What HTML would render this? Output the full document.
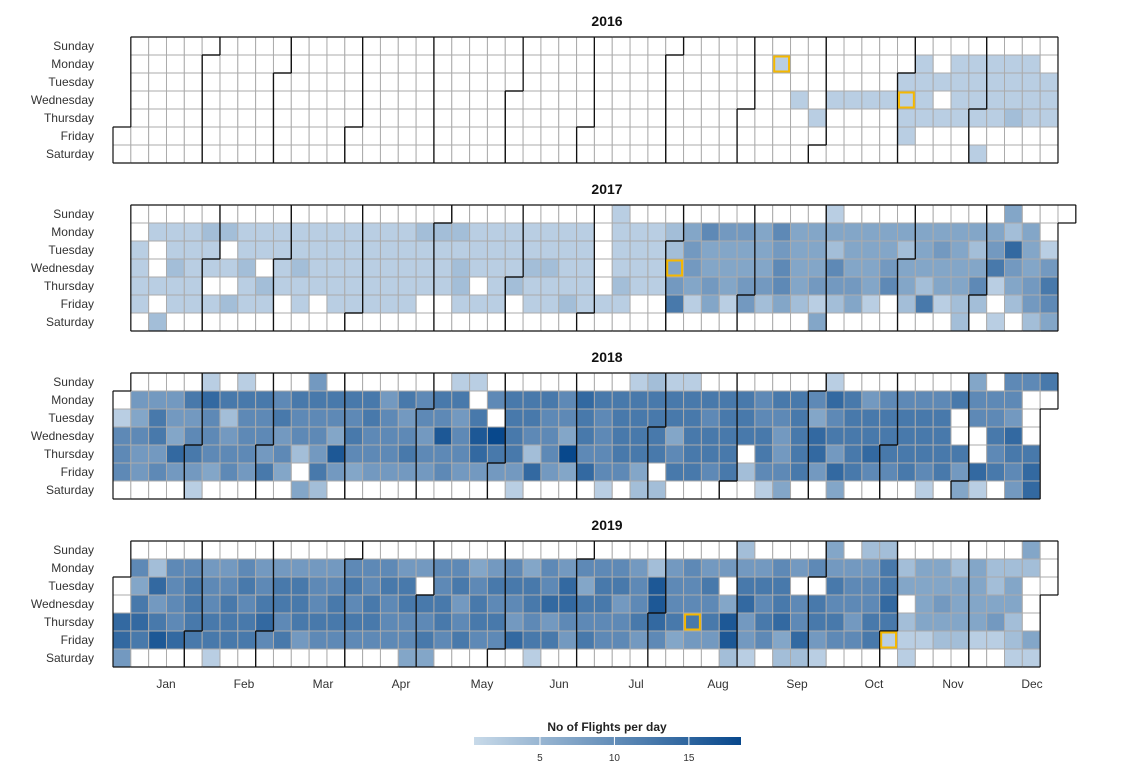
<!DOCTYPE html>
<html><head><meta charset="utf-8">
<style>
html,body{margin:0;padding:0;background:#fff;}
svg{display:block;font-family:"Liberation Sans",Arial,sans-serif;}
</style></head>
<body>
<svg id="chart" width="1129" height="776" viewBox="0 0 1129 776" xmlns="http://www.w3.org/2000/svg">
<defs>
<linearGradient id="lg" x1="0" x2="1" y1="0" y2="0">
<stop offset="0" stop-color="#c8dae9"/><stop offset="1" stop-color="#08488c"/>
</linearGradient>
</defs>
<g id="panels"></g>
<g id="months"></g>
<g>
<text x="607" y="731" text-anchor="middle" font-size="12" font-weight="bold" fill="#222">No of Flights per day</text>
<rect x="474" y="737" width="267" height="8" fill="url(#lg)"/>
<g id="legendTicks"></g>
</g>
</svg>
<script>
const years = [2016, 2017, 2018, 2019];
const dayNames = ["Sunday","Monday","Tuesday","Wednesday","Thursday","Friday","Saturday"];
const monthNames = ["Jan","Feb","Mar","Apr","May","Jun","Jul","Aug","Sep","Oct","Nov","Dec"];
const monthLabelX = [166,244,323,401,482,559,636,718,797,874,953,1032];
const levelValues = [0,2,4,7,8.5,10.5,12.5,14.5,16.5,18.5];
const legendTicks = [5,10,15];
const weeks2016 = ["0000000","0000000","0000000","0000000","0000000","0000000","0000000","0000000","0000000","0000000","0000000","0000000","0000000","0000000","0000000","0000000","0000000","0000000","0000000","0000000","0000000","0000000","0000000","0000000","0000000","0000000","0000000","0000000","0000000","0000000","0000000","0000000","0000000","0000000","0000000","0000000","0000000","0100000","0001000","0000100","0001000","0001000","0001000","0001000","0011110","0111100","0010100","0111100","0111101","0111100","0111200","0111100","0011100"];
const weeks2017 = ["0000000","0011110","0100102","0112110","0111110","0211010","0201020","0112110","0110210","0111100","0112110","0111100","0111110","0111110","0111110","0111110","0111110","0211100","0211100","0212210","0111010","0111110","0111200","0112110","0112110","0111120","0111110","0000010","1111210","0111100","0111100","0223460","0344310","0533430","0433310","0433440","0333420","0545530","0333320","0333413","1325420","0333430","0333310","0334500","0323320","0333260","0343310","0333322","0323520","0346101","3274320","0333442","0014653","0000000"];
const weeks2018 = ["0015550","0435440","0466450","0443740","0645641","1755530","0624550","1655540","0655460","0564530","0655203","4655462","0653840","0656530","0665540","0455540","0645640","0554540","0658550","1645540","1068740","0509640","0666641","0665270","0655540","0553930","0766570","0655551","0666650","1666632","2666602","1663560","1666660","0656650","0666660","0666020","0556651","0654453","0666660","0537740","1756473","0666660","0466750","0566650","0566660","0566651","0566660","0600643","3550071","0556560","5547654","5000677","6000000"];
const weeks2019 = ["0000774","0536760","0274680","0555570","0566660","0455661","0456660","0565660","0456750","0466560","0466640","0455650","0456650","0565650","0556650","0565550","0466553","0406563","0556650","0564560","0356650","0465650","0565470","0366561","0557460","0477540","0536560","0566550","0564550","0455640","0288750","0455630","0555640","0465640","0403882","2467441","0465650","0566732","0405572","0506641","3465650","0455450","2455660","2667610","0230211","0333310","0334320","0233320","0333310","0223410","0233221","3200031","0000000"];
const highlights = [[2016,"2016-09-12"],[2016,"2016-11-02"],[2017,"2017-08-02"],[2019,"2019-08-15"],[2019,"2019-11-01"]];

const weekData = {2016: weeks2016, 2017: weeks2017, 2018: weeks2018, 2019: weeks2019};
const NS = "http://www.w3.org/2000/svg";
const X0 = 113, CW = 17.83, CH = 18, PY0 = 37, PSTEP = 168;
const VMIN = 0.57, VMAX = 18.5;
const cLo = [200,218,234], cHi = [8,72,140];
function colorFor(v){
  if(!v) return "#ffffff";
  let t = Math.max(0, Math.min(1, (v - VMIN) / (VMAX - VMIN)));
  const c = cLo.map((a,i)=>Math.round(a + (cHi[i]-a)*t));
  return "rgb(" + c.join(",") + ")";
}
function legendX(v){ return 474 + (v - VMIN) / (VMAX - VMIN) * 267; }
function mk(tag, attrs, parent){
  const e = document.createElementNS(NS, tag);
  for (const k in attrs) e.setAttribute(k, attrs[k]);
  parent.appendChild(e); return e;
}
function dayInfo(d){
  const jan1 = new Date(Date.UTC(d.getUTCFullYear(),0,1));
  const yday = Math.round((d - jan1) / 86400000);
  const wday = d.getUTCDay();
  return {yday, wday, col: Math.floor((yday + 7 - wday) / 7)};
}
const panels = document.getElementById("panels");
years.forEach((yr, yi) => {
  const py = PY0 + yi * PSTEP;
  const g = mk("g", {}, panels);
  
  
  const title = mk("text", {x: 607, y: py - 11, "text-anchor": "middle", "font-size": 14, "font-weight": "bold", fill: "#111"}, g);
  title.textContent = yr;
  
  
  dayNames.forEach((dn, r) => {
    const t = mk("text", {x: 94, y: py + r*CH + 13, "text-anchor": "end", "font-size": 12, fill: "#333"}, g);
    t.textContent = dn;
    
    
  });
  const cells = mk("g", {}, g);
  const borders = mk("g", {}, g);
  const wk = weekData[yr];
  const start = Date.UTC(yr,0,1), end = Date.UTC(yr,11,31);
  const keyOf = t => { const d = new Date(t); return d.getUTCFullYear() + "-" + d.getUTCMonth(); };
  for (let t = start; t <= end; t += 86400000){
    const d = new Date(t);
    const inf = dayInfo(d);
    const code = (wk[inf.col] || "0000000")[inf.wday];
    const v = levelValues[+code];
    const x = X0 + inf.col * CW, y = py + inf.wday * CH;
    const r = mk("rect", {x: x, y: y, width: CW, height: CH, fill: colorFor(v), stroke: "#ababab", "stroke-width": 1}, cells);
    
    
    const me = keyOf(t);
    const nb = (dt) => { const tt = t + dt*86400000; const dd = new Date(tt); return dd.getUTCFullYear() === yr ? keyOf(tt) : null; };
    const edges = [];
    if (nb(-7) !== me) edges.push([x, y, x, y+CH]);
    if (nb(7) !== me) edges.push([x+CW, y, x+CW, y+CH]);
    if (inf.wday === 0 || nb(-1) !== me) edges.push([x, y, x+CW, y]);
    if (inf.wday === 6 || nb(1) !== me) edges.push([x, y+CH, x+CW, y+CH]);
    edges.forEach(e => {
      const l = mk("line", {x1: e[0], y1: e[1], x2: e[2], y2: e[3], stroke: "#111", "stroke-width": 1.2}, borders);
      
      
    });
  }
  highlights.filter(h => h[0] === yr).forEach(h => {
    const p = h[1].split("-");
    const d = new Date(Date.UTC(+p[0], +p[1]-1, +p[2]));
    const inf = dayInfo(d);
    const hr = mk("rect", {x: X0 + inf.col*CW + 1.5, y: py + inf.wday*CH + 1.5, width: CW-3, height: CH-3, fill: "none", stroke: "#f5b800", "stroke-width": 2}, g);
    
    
  });
});
const months = document.getElementById("months");
monthNames.forEach((m, i) => {
  const t = mk("text", {x: monthLabelX[i], y: 688, "text-anchor": "middle", "font-size": 12, fill: "#333"}, months);
  t.textContent = m;
  
  
});
const lt = document.getElementById("legendTicks");
legendTicks.forEach(v => {
  const x = legendX(v);
  const l = mk("line", {x1: x, x2: x, y1: 737, y2: 745, stroke: "#fff", "stroke-width": 1}, lt);
  
  
  const t = mk("text", {x: x, y: 761, "text-anchor": "middle", "font-size": 10, fill: "#333"}, lt);
  t.textContent = v;
  
  
});
</script>
</body></html>
